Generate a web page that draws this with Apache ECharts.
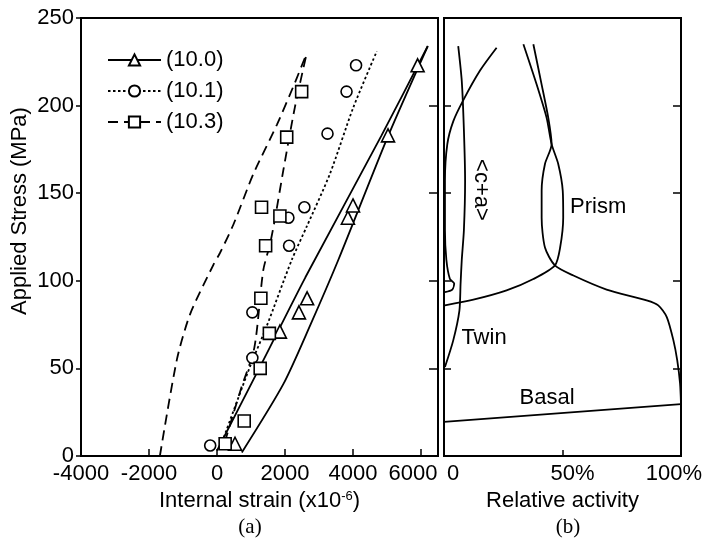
<!DOCTYPE html>
<html>
<head>
<meta charset="utf-8">
<script src="https://cdn.jsdelivr.net/npm/echarts@6/dist/echarts.min.js"></script>
<style>
  html, body { margin: 0; padding: 0; background: #fff; }
  #chart { width: 706px; height: 544px; }
</style>
</head>
<body>
<div id="chart"></div>
<script>
  // ---- panel (a): internal strain vs applied stress, [strain x1e-6, MPa]
  const pts100 = [[530, 7], [1850, 71], [2410, 82], [2650, 90], [3850, 136], [4000, 143], [5030, 183], [5900, 223]]
  const pts101 = [[-200, 6], [1040, 56], [1040, 82], [2120, 120], [2100, 136], [2570, 142], [3250, 184], [3810, 208], [4090, 223]]
  const pts103 = [[240, 7], [800, 20], [1270, 50], [1540, 70], [1290, 90], [1430, 120], [1850, 137], [1310, 142], [2050, 182], [2490, 208]]

  // model curves
  const line100a = [[0, 3], [1320, 53], [2600, 102], [4840, 183], [6200, 234]]
  const line100b = [[730, 2], [1950, 41], [2750, 75], [3570, 112], [5040, 183], [6200, 234]]
  const line101 = [[150, 8], [970, 51], [1460, 74], [2200, 112], [2640, 131], [3320, 161], [4010, 199], [4700, 231]]
  const line103a = [[-1680, 0], [-1180, 55], [-790, 81], [-110, 109], [90, 116], [480, 132], [1070, 161], [1760, 189], [2290, 213], [2640, 230]]
  const line103b = [[230, 8], [700, 38], [1100, 62], [1360, 106], [1560, 121], [1710, 136], [1950, 163], [2290, 199], [2640, 230]]

  const strainTicks = [-4000, -2000, 0, 2000, 4000, 6000]

  // ---- panel (b): relative activity boundaries, [% , MPa]
  const basal = [[0, 19.5], [100, 29.6]]
  const prismRight = [[100, 29.6], [99.6, 41.4], [98.4, 54.7], [96.8, 66], [94, 79.3], [90.4, 86], [85.5, 88.8], [68.6, 95], [54.6, 103], [46.8, 108.8],
    [42.6, 119], [41.2, 136], [41.2, 151.5], [42.6, 166.7], [45.4, 178], [44, 193], [41.2, 212], [37.7, 235]]
  const prismLeft = [[0.4, 86], [12.4, 89.2], [26.4, 94.5], [37.7, 101], [46.8, 108.8], [49, 119], [50.3, 136], [50.1, 151.5], [48.2, 166.7],
    [45.4, 178], [43.3, 193], [39.1, 212], [33.5, 235]]
  const twin = [[0.4, 50.8], [3.9, 66], [6.5, 83], [7, 98.5], [7.5, 112], [8.4, 129], [8.9, 157], [8.4, 186], [7.5, 214], [6, 234]]
  const cPlusA = [[22.2, 233], [15.2, 220], [8.1, 203], [3.9, 191], [1.4, 178], [0.4, 157], [0.4, 129], [1, 112], [2.5, 101], [4.3, 98.5], [3.5, 95], [0.4, 93.5]]

  const activityLabels = { 0: '{l|0}', 50: '{m|50%}', 100: '{r|100%}' }

  const font = 'Liberation Sans, Arial, sans-serif'
  const black = '#000'

  function curve(name, data, dash, symbol, xi, yi) {
    return {
      name: name,
      type: 'line',
      xAxisIndex: xi,
      yAxisIndex: yi,
      data: data,
      symbol: symbol || 'none',
      showSymbol: false,
      smooth: 0.25,
      silent: true,
      color: black,
      lineStyle: { color: black, width: 1.8, type: dash }
    }
  }

  function marks(name, data, symbol, size) {
    return {
      name: name,
      type: 'scatter',
      xAxisIndex: 0,
      yAxisIndex: 0,
      data: data,
      symbol: symbol,
      symbolSize: size,
      silent: true,
      z: 5,
      itemStyle: { color: '#fff', borderColor: black, borderWidth: 1.6, opacity: 1 }
    }
  }

  const chart = echarts.init(document.getElementById('chart'))

  const axisLine = { show: true, onZero: false, lineStyle: { color: black, width: 2 } }
  const txt = { color: black, fontSize: 22, fontFamily: font }

  chart.setOption({
    animation: false,
    backgroundColor: '#fff',
    textStyle: { fontFamily: font },
    grid: [
      { left: 81, top: 18, width: 357, height: 438, show: true, borderColor: black, borderWidth: 2 },
      { left: 444, top: 18, width: 237, height: 438, show: true, borderColor: black, borderWidth: 2 }
    ],
    legend: {
      data: ['(10.0)', '(10.1)', '(10.3)'],
      orient: 'vertical',
      left: 102,
      top: 44,
      itemWidth: 53,
      itemHeight: 14,
      itemGap: 9,
      selectedMode: false,
      textStyle: txt
    },
    xAxis: [
      {
        gridIndex: 0, type: 'value', min: -4000, max: 6500, interval: 2000,
        axisLine: axisLine,
        axisTick: { inside: true, length: 7, lineStyle: { color: black, width: 1.5 } },
        splitLine: { show: false },
        axisLabel: {
          ...txt, margin: 7,
          formatter: v => strainTicks.includes(v) ? (v === 6000 ? '{r|6000}' : String(v)) : '',
          rich: { r: { ...txt, padding: [0, 16, 0, 0] } }
        },
        name: 'Internal strain (x10{s|-6})',
        nameLocation: 'middle',
        nameGap: 30,
        nameTextStyle: { ...txt, rich: { s: { color: black, fontFamily: font, fontSize: 13, verticalAlign: 'top', lineHeight: 14 } } }
      },
      {
        gridIndex: 1, type: 'value', min: 0, max: 100, interval: 50,
        axisLine: axisLine,
        axisTick: { inside: true, length: 6, lineStyle: { color: black, width: 1.5 } },
        splitLine: { show: false },
        axisLabel: {
          ...txt, margin: 7,
          formatter: v => activityLabels[v] || '',
          rich: {
            l: { ...txt, padding: [0, 0, 0, 18] },
            m: { ...txt, padding: [0, 0, 0, 20] },
            r: { ...txt, padding: [0, 14, 0, 0] }
          }
        },
        name: 'Relative activity',
        nameLocation: 'middle',
        nameGap: 30,
        nameTextStyle: txt
      }
    ],
    yAxis: [
      {
        gridIndex: 0, type: 'value', position: 'left', min: 0, max: 250, interval: 50,
        axisLine: axisLine,
        axisTick: { inside: false, length: 5, lineStyle: { color: black, width: 1.5 } },
        splitLine: { show: false },
        axisLabel: { ...txt, margin: 7 }
      },
      {
        gridIndex: 0, type: 'value', position: 'right', min: 0, max: 250, interval: 50,
        axisLine: axisLine,
        axisTick: { inside: true, length: 9, lineStyle: { color: black, width: 1.5 } },
        splitLine: { show: false },
        axisLabel: { show: false }
      },
      {
        gridIndex: 1, type: 'value', position: 'left', min: 0, max: 250, interval: 50,
        axisLine: axisLine,
        axisTick: { inside: true, length: 7, lineStyle: { color: black, width: 1.5 } },
        splitLine: { show: false },
        axisLabel: { show: false }
      },
      {
        gridIndex: 1, type: 'value', position: 'right', min: 0, max: 250, interval: 50,
        axisLine: axisLine,
        axisTick: { inside: true, length: 8, lineStyle: { color: black, width: 1.5 } },
        splitLine: { show: false },
        axisLabel: { show: false }
      }
    ],
    series: [
      curve('(10.0)', line100a, 'solid', 'emptyTriangle', 0, 0),
      curve('(10.0)', line100b, 'solid', 'emptyTriangle', 0, 0),
      curve('(10.1)', line101, [2.5, 2.5], 'emptyCircle', 0, 0),
      curve('(10.3)', line103a, [10, 6], 'emptyRect', 0, 0),
      curve('(10.3)', line103b, [10, 6], 'emptyRect', 0, 0),
      marks('(10.0)', pts100, 'triangle', 13),
      marks('(10.1)', pts101, 'circle', 11),
      marks('(10.3)', pts103, 'rect', 12),
      curve('basal', basal, 'solid', null, 1, 2),
      curve('prismRight', prismRight, 'solid', null, 1, 2),
      curve('prismLeft', prismLeft, 'solid', null, 1, 2),
      curve('twin', twin, 'solid', null, 1, 2),
      curve('cPlusA', cPlusA, 'solid', null, 1, 2)
    ],
    graphic: [
      { type: 'text', x: 20, y: 211, rotation: Math.PI / 2, style: { text: 'Applied Stress (MPa)', fill: black, fontSize: 22, fontFamily: font, align: 'center', verticalAlign: 'middle' } },
      { type: 'text', x: 481, y: 190, rotation: -Math.PI / 2, style: { text: '<c+a>', fill: black, fontSize: 22, fontFamily: font, align: 'center', verticalAlign: 'middle' } },
      { type: 'text', x: 570, y: 207, style: { text: 'Prism', fill: black, fontSize: 22, fontFamily: font, align: 'left', verticalAlign: 'middle' } },
      { type: 'text', x: 484, y: 338, style: { text: 'Twin', fill: black, fontSize: 22, fontFamily: font, align: 'center', verticalAlign: 'middle' } },
      { type: 'text', x: 547, y: 398, style: { text: 'Basal', fill: black, fontSize: 22, fontFamily: font, align: 'center', verticalAlign: 'middle' } },
      { type: 'text', x: 250, y: 527, style: { text: '(a)', fill: black, fontSize: 21, fontFamily: 'Liberation Serif, Times New Roman, serif', align: 'center', verticalAlign: 'middle' } },
      { type: 'text', x: 568, y: 527, style: { text: '(b)', fill: black, fontSize: 21, fontFamily: 'Liberation Serif, Times New Roman, serif', align: 'center', verticalAlign: 'middle' } }
    ]
  })
</script>
</body>
</html>
